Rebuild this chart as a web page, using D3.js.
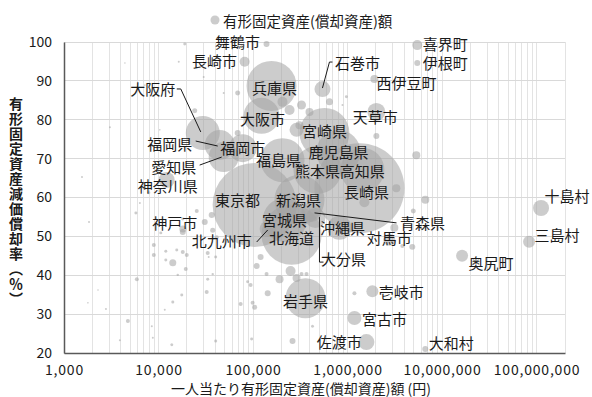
<!DOCTYPE html>
<html>
<head>
<meta charset="utf-8">
<script src="https://cdn.jsdelivr.net/npm/d3@7"></script>
<style>
  body { margin: 0; background: #fff; }
  svg { display: block; }
  text { font-family: "Noto Sans CJK JP", "Noto Sans", sans-serif; fill: #1a1a1a; }
</style>
</head>
<body>
<svg id="chart" width="592" height="397"></svg>
<script>
// Named local governments: per-capita tangible fixed assets (yen),
// depreciation rate (%), and total tangible fixed assets (100 million yen)
const names = ["東京都","長崎県","北海道","兵庫県","宮崎県","新潟県","熊本県","鹿児島県","高知県","福島県","宮城県",
  "岩手県","大阪市","大阪府","福岡県","愛知県","福岡市","沖縄県","青森県","大分県","天草市","石巻市","神奈川県",
  "北九州市","佐渡市","宮古市","壱岐市","対馬市","十島村","三島村","奥尻町","長崎市","西伊豆町","喜界町","神戸市",
  "舞鶴市","伊根町","大和村"];
const perCapita = [104000,1336000,256000,157000,570000,310000,481000,801000,1436000,205000,216000,
  359000,123000,29400,44400,48900,77700,821000,416000,458000,2019000,543000,12200,
  143000,1583000,1183000,1832000,2770000,111600000,83300000,16300000,81500,1924000,5470000,18100,
  139000,5470000,6650000];
const deprRate = [58.1,62.4,50.4,88.7,76.6,59.4,67.1,71.7,67.1,69.6,54.2,
  34.1,81.0,76.6,73.5,70.4,72.7,52.2,56.3,54.7,82.0,87.9,64.5,
  51.9,22.8,29.0,35.9,49.1,57.3,48.6,45.0,94.9,90.5,99.2,51.9,
  99.5,94.6,21.0];
const assets = [110250,126600,56250,39060,39060,39060,36000,30250,30250,30250,30250,
  25000,20250,18060,14060,14060,12250,9000,6250,6250,5060,4000,4000,
  4000,4000,3060,2250,2250,4000,2250,2250,1560,1000,1560,766,
  560,560,560];

// Other local governments (unlabelled)
const otherPerCapita = [3060,1550,7900,6350,5760,1840,10570,8920,11940,5900,4740,2780,8500,4410,8920,11940,14160,18060,
  15990,33160,32360,40280,33970,40280,13820,8710,37450,87700,94300,99000,104000,73960,96700,109200,120300,143000,
  139000,190900,249500,288700,326000,368000,261900,426000,11650,14160,17620,19430,18060,25380,30830,36540,37450,18060,
  15600,19900,33160,41270,18950,16380,30080,68780,48900,24170,326000,396000,205000,644000,68780,288700,973000,883000,
  2019000,5340000,6650000,4965000,3284000,1508000,1183000,4845000,3800000,3128000,243500,310000,2290,3900,1790,7170,10320];
const otherRate = [78.1,65.3,61.2,58.6,56.0,53.7,50.9,47.8,46.2,39.0,28.2,31.3,26.9,94.6,45.2,43.9,43.2,46.0,
  40.1,39.0,35.7,44.7,44.7,23.1,22.1,23.9,40.3,38.3,37.5,32.9,31.8,32.6,23.6,42.4,44.7,35.4,
  40.3,39.0,41.1,39.3,40.3,40.3,23.1,26.9,31.1,33.1,34.9,41.6,54.5,56.5,53.7,55.5,51.6,51.1,
  46.5,45.2,45.7,49.8,99.5,94.9,91.0,86.9,86.9,82.3,83.8,82.0,84.6,84.6,76.6,77.4,85.9,83.8,
  75.8,70.9,59.4,56.5,62.4,58.8,35.4,47.3,47.5,52.2,82.5,78.6,36.2,23.3,32.9,88.9,77.4];
const otherAssets = [62,62,140,62,140,62,140,250,140,250,250,62,62,40,250,140,766,250,
  90,140,250,140,62,140,140,62,90,140,250,250,390,250,140,560,560,560,
  250,1000,1560,1000,250,250,560,140,62,140,140,250,140,250,560,560,390,560,
  140,250,250,250,140,62,62,390,62,390,1270,1000,1560,766,560,3060,140,62,
  560,1000,1000,390,1000,1560,250,560,250,1000,1560,1000,40,62,40,40,40];

const xTickValues = [1e3, 1e4, 1e5, 1e6, 1e7, 1e8];
const yTickValues = [20, 30, 40, 50, 60, 70, 80, 90, 100];

// Label placement (pixel offsets from the bubble centre) and leader lines
const labelLayout = {
  "東京都": { dx: -17, dy: -5 },
  "長崎県": { dx: 7, dy: 3 },
  "北海道": { dx: 0, dy: 3 },
  "兵庫県": { dx: 3, dy: 2 },
  "宮崎県": { dx: 0, dy: -2 },
  "新潟県": { dx: -1, dy: 0 },
  "熊本県": { dx: 0, dy: 1 },
  "鹿児島県": { dx: 0, dy: -1 },
  "高知県": { dx: 0, dy: 1 },
  "福島県": { dx: -4, dy: -1 },
  "宮城県": { dx: 0, dy: -1 },
  "岩手県": { dx: 0, dy: 2 },
  "大阪市": { dx: 1, dy: 3 },
  "大阪府": { dx: -50, dy: -44, leader: [[-26, -44], [-22, -44], [-2, -1]] },
  "福岡県": { dx: -50, dy: -2, leader: [[-24, -4], [-2, 1]] },
  "愛知県": { dx: -50, dy: 9, leader: [[-24, 8], [-2, 0]] },
  "福岡市": { dx: 0, dy: -1 },
  "沖縄県": { dx: 3, dy: 0 },
  "青森県": { dx: 111, dy: 11, leader: [[3, 1], [85, 11]] },
  "大分県": { dx: 28, dy: 40, leader: [[4, -1], [4, 44], [8, 44]] },
  "天草市": { dx: -1, dy: 5 },
  "石巻市": { dx: 35, dy: -27, leader: [[0, -1], [7, -27], [10, -27]] },
  "神奈川県": { dx: 1, dy: 5 },
  "北九州市": { dx: -46, dy: 12, leader: [[-11, 13], [0, 1]] },
  "佐渡市": { dx: -27, dy: -1 },
  "宮古市": { dx: 30, dy: 0 },
  "壱岐市": { dx: 29, dy: 0 },
  "対馬市": { dx: 0, dy: -2 },
  "十島村": { dx: 26, dy: -12 },
  "三島村": { dx: 28, dy: -7 },
  "奥尻町": { dx: 29, dy: 7 },
  "長崎市": { dx: -30, dy: -1 },
  "西伊豆町": { dx: 32, dy: 4 },
  "喜界町": { dx: 28, dy: -2 },
  "神戸市": { dx: -8, dy: -6 },
  "舞鶴市": { dx: -29, dy: -2 },
  "伊根町": { dx: 28, dy: 0 },
  "大和村": { dx: 26, dy: -7 }
};

const svg = d3.select("#chart");
const plot = { left: 64, right: 565, top: 42, bottom: 353 };

const x = d3.scaleLog().domain([1000, 2e8]).range([plot.left, plot.right]);
const y = d3.scaleLinear().domain([20, 100]).range([plot.bottom, plot.top]);
const r = d3.scaleSqrt().domain([0, 100000]).range([0, 40]);

const bubbleFill = "#a3a3a3";
const bubbleOpacity = 0.55;

// Gridlines: every log sub-division horizontally, every 10 points vertically
const xGrid = [];
for (let e = 3; e <= 8; e++) {
  for (let m = 1; m <= 9; m++) {
    const v = m * Math.pow(10, e);
    if (v <= 2e8) xGrid.push(v);
  }
}
svg.append("g").selectAll("line").data(xGrid).join("line")
  .attr("x1", d => x(d)).attr("x2", d => x(d))
  .attr("y1", plot.top).attr("y2", plot.bottom)
  .attr("stroke", "#e3e3e3").attr("stroke-width", 1).attr("shape-rendering", "crispEdges");
svg.append("g").selectAll("line").data(yTickValues).join("line")
  .attr("x1", plot.left).attr("x2", plot.right)
  .attr("y1", d => y(d)).attr("y2", d => y(d))
  .attr("stroke", "#d9d9d9").attr("stroke-width", 1).attr("shape-rendering", "crispEdges");

// Bubbles: all points together, largest drawn first
const points = names.map((n, i) => ({ name: n, v: perCapita[i], rate: deprRate[i], size: assets[i] }))
  .concat(otherPerCapita.map((v, i) => ({ name: "", v, rate: otherRate[i], size: otherAssets[i] })));
points.sort((a, b) => b.size - a.size);

svg.append("g").selectAll("circle").data(points).join("circle")
  .attr("cx", d => x(d.v)).attr("cy", d => y(d.rate)).attr("r", d => r(d.size))
  .attr("fill", bubbleFill).attr("fill-opacity", bubbleOpacity);

// Axes
const xAxis = svg.append("g").attr("transform", `translate(0,${plot.bottom})`)
  .call(d3.axisBottom(x).tickValues(xTickValues).tickFormat(d3.format(",")).tickSize(0).tickPadding(12));
const yAxis = svg.append("g").attr("transform", `translate(${plot.left},0)`)
  .call(d3.axisLeft(y).tickValues(yTickValues).tickSize(0).tickPadding(12));
[xAxis, yAxis].forEach(g => {
  g.select(".domain").attr("stroke", "#595959").attr("stroke-width", 1.5);
  g.selectAll("text").attr("font-size", 14).attr("fill", "#1a1a1a")
    .attr("font-family", "\"Noto Sans CJK JP\", sans-serif");
});
xAxis.selectAll("text").attr("letter-spacing", 0.8);

// Leader lines and data labels
const labelled = names.map((n, i) => ({ name: n, cx: x(perCapita[i]), cy: y(deprRate[i]), lay: labelLayout[n] }));
svg.append("g").selectAll("polyline").data(labelled.filter(d => d.lay.leader)).join("polyline")
  .attr("points", d => d.lay.leader.map(p => [d.cx + p[0], d.cy + p[1]].join(",")).join(" "))
  .attr("fill", "none").attr("stroke", "#1a1a1a").attr("stroke-width", 1);
svg.append("g").selectAll("text").data(labelled).join("text")
  .attr("x", d => d.cx + d.lay.dx).attr("y", d => d.cy + d.lay.dy)
  .attr("text-anchor", "middle").attr("dominant-baseline", "central")
  .attr("font-size", 15)
  .text(d => d.name);

// Axis titles
svg.append("text")
  .attr("x", 301).attr("y", 388)
  .attr("text-anchor", "middle").attr("dominant-baseline", "central")
  .attr("font-size", 14)
  .text("一人当たり有形固定資産(償却資産)額 (円)");
svg.append("text")
  .attr("x", 16).attr("y", 202)
  .attr("text-anchor", "middle")
  .style("writing-mode", "vertical-rl")
  .attr("font-size", 14).attr("font-weight", 700).attr("letter-spacing", 1)
  .text("有形固定資産減価償却率（％）");

// Legend
const legend = svg.append("g").attr("transform", "translate(215,20)");
legend.append("circle").attr("r", 4.5).attr("fill", bubbleFill).attr("fill-opacity", bubbleOpacity);
legend.append("text").attr("x", 8).attr("y", 0).attr("dominant-baseline", "central")
  .attr("font-size", 14.5).text("有形固定資産(償却資産)額");
</script>
</body>
</html>
